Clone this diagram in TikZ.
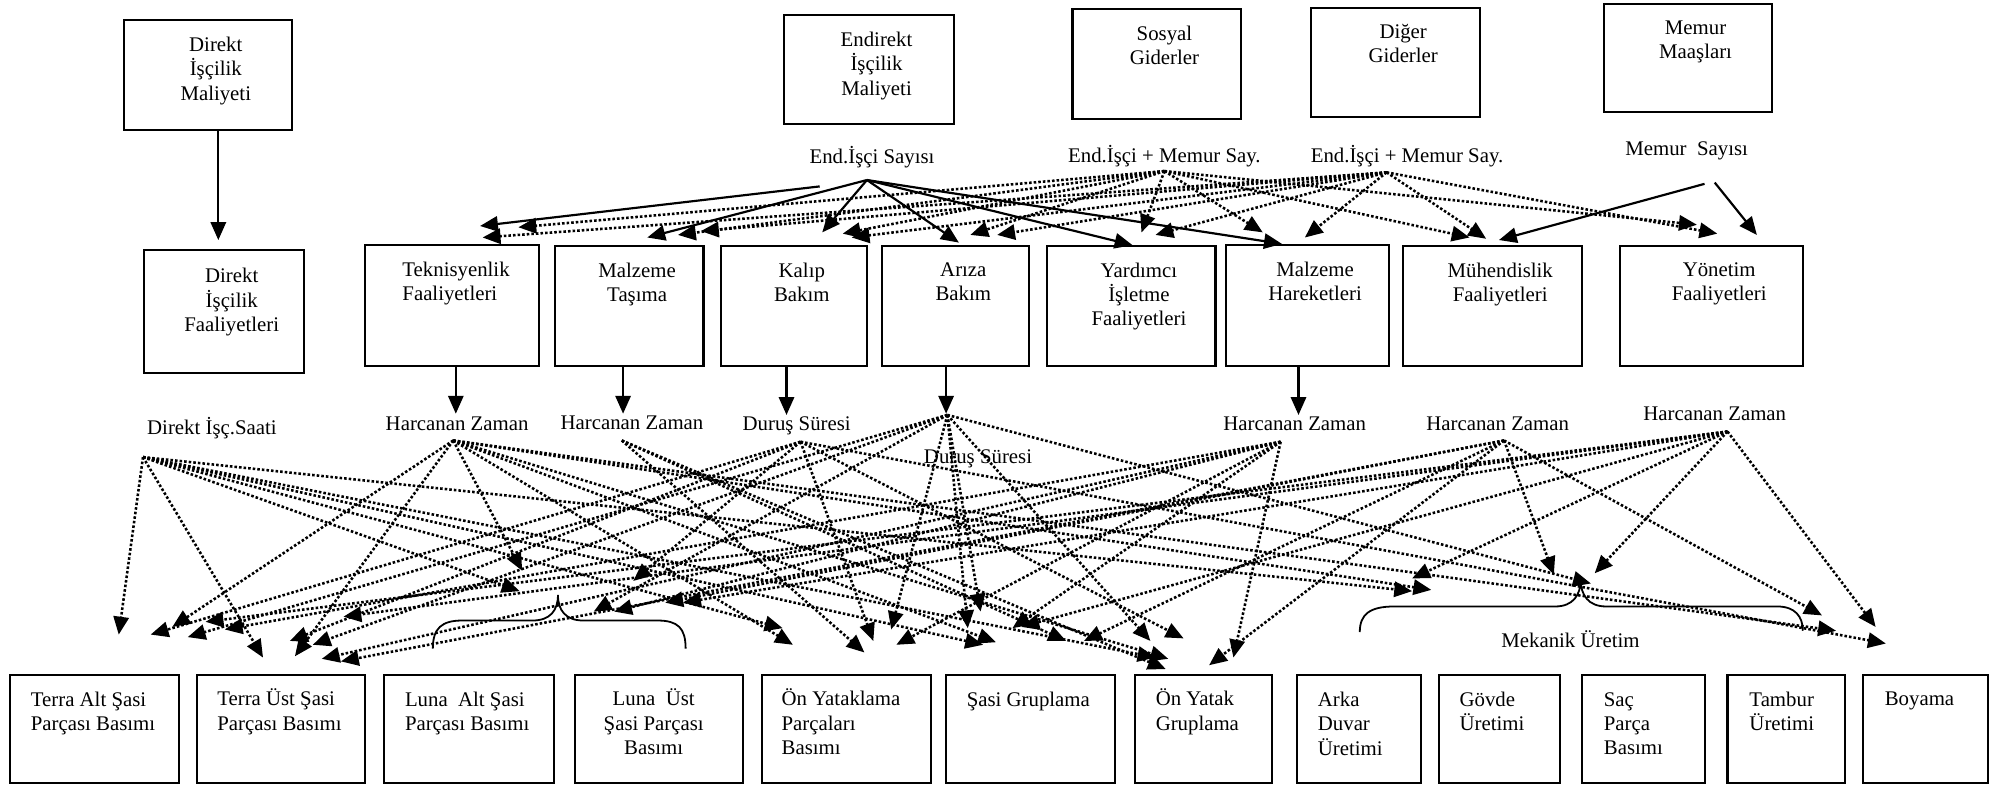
\documentclass[tikz,border=0pt]{standalone}
\usepackage{fontspec}
\setmainfont{Liberation Serif}
\usetikzlibrary{positioning,arrows.meta}
\newcommand{\boxfont}{\fontsize{16.3pt}{19pt}\selectfont}

\begin{document}
\begin{tikzpicture}[x=1pt,y=-1pt,
    box/.style={draw, line width=1.6pt, inner sep=0pt, outer sep=0pt},
    boxsize/.style 2 args={minimum width=#1pt, minimum height=#2pt},
    txt/.style={font=\boxfont, inner sep=0pt, align=center},
    arr/.style={line width=1.7pt, -{Triangle[length=14pt,width=12pt]}},
    dotarr/.style={arr, line width=2pt, dash pattern=on 2pt off 1.6pt},
    brace/.style={line width=1.4pt}]
\useasboundingbox (0,0) rectangle (1568,616);

% maliyet kutulari
\node[box, boxsize={132}{86}, anchor=north west] (dim) at (97,16) {};
\node[box, boxsize={133}{85}, anchor=north west] (eim) at (614,12) {};
\node[box, boxsize={132}{86}, anchor=north west] (sos) at (840,7) {};
\node[box, boxsize={132}{86}, anchor=north west] (dig) at (1027,6) {};
\node[box, boxsize={132}{85}, anchor=north west] (mem) at (1256,3) {};
\node[txt, below=13pt of dim.north, xshift=6pt] (dimt) {Direkt\\İşçilik\\Maliyeti};
\node[txt, below=13pt of eim.north, xshift=6pt] (eimt) {Endirekt\\İşçilik\\Maliyeti};
\node[txt, below=13pt of sos.north, xshift=6pt] (sost) {Sosyal\\Giderler};
\node[txt, below=13pt of dig.north, xshift=6pt] (digt) {Diğer\\Giderler};
\node[txt, below=13pt of mem.north, xshift=6pt] (memt) {Memur\\Maaşları};

% faaliyetler
\node[box, boxsize={125}{96}, anchor=north west] (dif) at (113,196) {};
\node[box, boxsize={136}{95}, anchor=north west] (tek) at (286,192) {};
\node[box, boxsize={116}{94}, right=13pt of tek] (mta) {};
\node[box, boxsize={114}{94}, right=14pt of mta] (kal) {};
\node[box, boxsize={115}{94}, right=12pt of kal] (ari) {};
\node[box, boxsize={132}{94}, right=14pt of ari] (yar) {};
\node[box, boxsize={128}{95}, right=8pt of yar] (mha) {};
\node[box, boxsize={140}{94}, right=11pt of mha] (muh) {};
\node[box, boxsize={143}{94}, right=30pt of muh] (yon) {};
\node[txt, below=14pt of dif.north, xshift=6pt] (dift) {Direkt\\İşçilik\\Faaliyetleri};
\node[txt, align=left, below right=13pt and 29pt of tek.north west] (tekt) {Teknisyenlik\\Faaliyetleri};
\node[txt, below=13pt of mta.north, xshift=6pt] (mtat) {Malzeme\\Taşıma};
\node[txt, below=13pt of kal.north, xshift=6pt] (kalt) {Kalıp\\Bakım};
\node[txt, below=13pt of ari.north, xshift=6pt] (arit) {Arıza\\Bakım};
\node[txt, below=13pt of yar.north, xshift=6pt] (yart) {Yardımcı\\İşletme\\Faaliyetleri};
\node[txt, below=13pt of mha.north, xshift=6pt] (mhat) {Malzeme\\Hareketleri};
\node[txt, below=13pt of muh.north, xshift=6pt] (muht) {Mühendislik\\Faaliyetleri};
\node[txt, below=13pt of yon.north, xshift=6pt] (yont) {Yönetim\\Faaliyetleri};

% urunler
\node[box, boxsize={132}{84}, anchor=north west] (tas) at (8,529) {};
\node[box, boxsize={132}{84}, right=14pt of tas] (tus) {};
\node[box, boxsize={133}{84}, right=15pt of tus] (las) {};
\node[box, boxsize={132}{84}, right=16pt of las] (lus) {};
\node[box, boxsize={132}{84}, right=15pt of lus] (oyp) {};
\node[box, boxsize={132}{84}, right=12pt of oyp] (sgr) {};
\node[box, boxsize={107}{84}, right=16pt of sgr] (oyg) {};
\node[box, boxsize={97}{84}, right=20pt of oyg] (adu) {};
\node[box, boxsize={95}{84}, right=14pt of adu] (gov) {};
\node[box, boxsize={96}{84}, right=17pt of gov] (spb) {};
\node[box, boxsize={92}{84}, right=18pt of spb] (tam) {};
\node[box, boxsize={98}{84}, right=14pt of tam] (boy) {};
\node[txt, align=left, below right=13pt and 16pt of tas.north west] (tast) {Terra Alt Şasi\\Parçası Basımı};
\node[txt, align=left, below right=10.5pt and 16pt of tus.north west] (tust) {Terra Üst Şasi\\Parçası Basımı};
\node[txt, align=left, below right=13pt and 16pt of las.north west] (last) {Luna\ \ Alt Şasi\\Parçası Basımı};
\node[txt, below=10.5pt of lus.north, xshift=-4pt] (lust) {Luna\ \ Üst\\Şasi Parçası\\Basımı};
\node[txt, align=left, below right=10.5pt and 15pt of oyp.north west] (oypt) {Ön Yataklama\\Parçaları\\Basımı};
\node[txt, align=left, below right=13pt and 16pt of sgr.north west] (sgrt) {Şasi Gruplama};
\node[txt, align=left, below right=10.5pt and 16pt of oyg.north west] (oygt) {Ön Yatak\\Gruplama};
\node[txt, align=left, below right=13pt and 16pt of adu.north west] (adut) {Arka\\Duvar\\Üretimi};
\node[txt, align=left, below right=13pt and 16pt of gov.north west] (govt) {Gövde\\Üretimi};
\node[txt, align=left, below right=13pt and 17pt of spb.north west] (spbt) {Saç\\Parça\\Basımı};
\node[txt, align=left, below right=13pt and 17pt of tam.north west] (tamt) {Tambur\\Üretimi};
\node[txt, align=left, below right=13pt and 17pt of boy.north west] (boyt) {Boyama};

% dagitim anahtarlari
\node[txt, anchor=base] (eis) at (683,128) {End.İşçi Sayısı};
\node[txt, anchor=base] (ems1) at (912,127) {End.İşçi + Memur Say.};
\node[txt, anchor=base] (ems2) at (1102,127) {End.İşçi + Memur Say.};
\node[txt, anchor=base] (mes) at (1321,122) {Memur\ \ Sayısı};
\node[txt, anchor=base] (dis) at (166,340) {Direkt İşç.Saati};
\node[txt, anchor=base] (hz1) at (358,337) {Harcanan Zaman};
\node[txt, anchor=base] (hz2) at (495,336) {Harcanan Zaman};
\node[txt, anchor=base] (ds1) at (624,337) {Duruş Süresi};
\node[txt, anchor=base] (ds2) at (766,363) {Duruş Süresi};
\node[txt, anchor=base] (hz3) at (1014,337) {Harcanan Zaman};
\node[txt, anchor=base] (hz4) at (1173,337) {Harcanan Zaman};
\node[txt, anchor=base] (hz5) at (1343,329) {Harcanan Zaman};
\node[txt, anchor=base] (mek) at (1230,507) {Mekanik Üretim};

\foreach \n/\x/\y in {p0/171/188, t1/357/324, t2/488/324, t3/616/325, t4/741/324, t5/1017/325,
    es/679/141, es0/642/146, sa/912/134, sb/1086/135, ma/1335/144, mb/1343/143,
    e1/376/177, e2/507/186, e3/644/182, e4/751/190, e5/887/192, e6/1004/191,
    f1/406/178, f2/531/184, f3/660/183, f4/760/184, f5/894/182, f6/989/182, f7/1151/186, f8/1329/176,
    g1/378/186, g2/549/181, g3/667/186, g4/781/184, g5/905/184, g6/1022/186, g7/1164/187, g8/1345/183,
    n1/1174/188, n2/1376/184}
  \coordinate (\n) at (\x,\y);
\foreach \n/\x/\y in {sdir/112/358, shz1/355/345, shz2/487/345, sds1/627/346, sds2/742/325,
    shz3/1003/346, shz4/1178/345, shz5/1353/338,
    ta1/93/497, ta2/118/497, ta3/135/491, ta4/147/499, ta5/161/487, ta6/176/493,
    tu1/206/515, tu2/227/502, tu3/231/514, tu4/245/505, tu5/252/516, tu6/267/518, tu7/269/483,
    lu1/409/447, lu2/407/463, lu3/465/479, lu4/481/479, lu5/496/455, lu6/521/472, lu7/535/472,
    oy1/613/492, oy2/621/505, oy3/677/511, oy4/684/502, oy5/698/493, oy6/702/505,
    sg1/758/492, sg2/770/505, sg3/780/503, sg4/768/479, sg5/793/492, sg6/800/491, sg7/835/502, sg8/849/502,
    og1/901/502, og2/905/515, og3/915/516, og4/913/524, og5/927/500, og6/947/521, og7/966/515,
    ad1/1106/453, ad2/1106/463, ad3/1121/462, me1/1217/450, me2/1249/449, me3/1246/457,
    tb1/1427/482, tb2/1438/494, by1/1469/491, by2/1477/504}
  \coordinate (\n) at (\x,\y);

\draw[arr] (dim.south -| p0) -- (p0);
\draw[arr] (tek.south -| t1) -- (t1);
\draw[arr] (mta.south -| t2) -- (t2);
\draw[arr] (kal.south -| t3) -- (t3);
\draw[arr] (ari.south -| t4) -- (t4);
\draw[arr] (mha.south -| t5) -- (t5);

\draw[arr] (es0) -- (e1);
\path[arr] (es) edge (e2) edge (e3) edge (e4) edge (e5) edge (e6);
\path[dotarr] (sa) edge (f1) edge (f2) edge (f3) edge (f4) edge (f5) edge (f6) edge (f7) edge (f8);
\path[dotarr] (sb) edge (g1) edge (g2) edge (g3) edge (g4) edge (g5) edge (g6) edge (g7) edge (g8);
\draw[arr] (ma) -- (n1);
\draw[arr] (mb) -- (n2);

\path[dotarr] (sdir) edge (ta1) edge (tu1) edge (lu2) edge (oy1) edge (sg2) edge (og2) edge (ad2);
\path[dotarr] (shz1) edge (ta3) edge (tu3) edge (lu1) edge (oy2) edge (sg3) edge (og3) edge (ad3) edge (tb2);
\path[dotarr] (shz2) edge (oy3) edge (sg7) edge (og4);
\path[dotarr] (sds1) edge (ta2) edge (tu2) edge (lu5) edge (oy4) edge (og5) edge (by2);
\path[dotarr] (sds2) edge (ta4) edge (tu4) edge (lu3) edge (oy5) edge (sg4) edge (sg1) edge (og1) edge (me3);
\path[dotarr] (shz3) edge (ta6) edge (tu5) edge (lu4) edge (oy6) edge (sg5) edge (og7);
\path[dotarr] (shz4) edge (tu6) edge (lu6) edge (sg8) edge (og6) edge (me1) edge (tb1);
\path[dotarr] (shz5) edge (ta5) edge (tu7) edge (lu7) edge (sg6) edge (ad1) edge (me2) edge (by1);

% parantezler
\draw[brace] (339,508) .. controls (339,492) and (346,486) .. (362,486) -- (417,486)
  .. controls (431,486) and (437,478) .. (437,466) .. controls (437,478) and (443,486) .. (457,486)
  -- (515,486) .. controls (531,486) and (537,492) .. (537,508);
\draw[brace] (1065,495) .. controls (1065,481) and (1073,475) .. (1092,475) -- (1218,475)
  .. controls (1232,475) and (1238,466) .. (1238,454) .. controls (1238,466) and (1244,475) .. (1258,475)
  -- (1392,475) .. controls (1406,475) and (1412,483) .. (1412,494);
\end{tikzpicture}
\end{document}
